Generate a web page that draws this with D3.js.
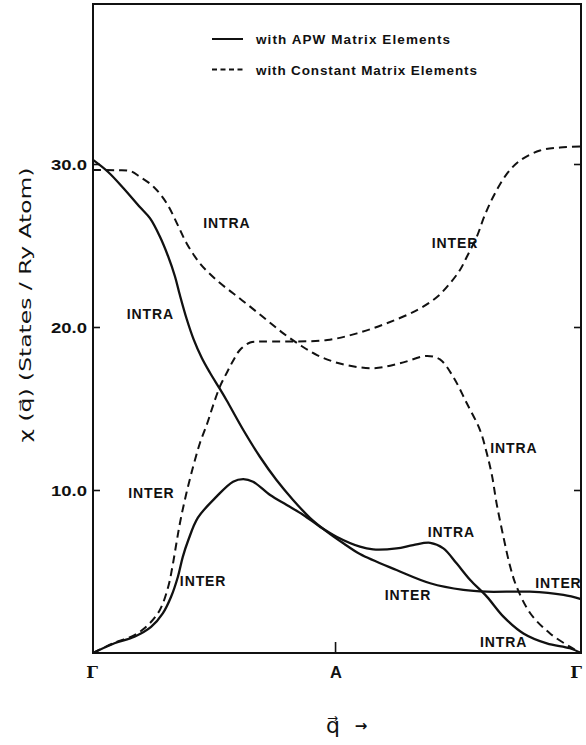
<!DOCTYPE html>
<html><head><meta charset="utf-8">
<script src="https://cdn.jsdelivr.net/npm/d3@7"></script>
<style>body{margin:0;background:#fff}</style>
</head><body>
<svg id="chart" width="586" height="745"></svg>
<script>
// ---- data (x: fraction of path Γ → A → Γ, y: χ(q) in States/Ry Atom) ----
const xTickValues = [0, 0.496, 1];
const xTickLabels = ["Γ", "A", "Γ"];
const yTickValues = [10, 20, 30];
const yTickLabels = ["10.0", "20.0", "30.0"];

const seriesNames = ["with APW Matrix Elements", "with Constant Matrix Elements"];

// APW matrix elements, curve starting at 30 (INTRA → INTER)
const apwIntraX = [0, 0.031, 0.062, 0.096, 0.117, 0.137, 0.154, 0.168, 0.178, 0.192, 0.206, 0.223, 0.240, 0.260, 0.274, 0.308, 0.342, 0.376, 0.410, 0.445, 0.479, 0.513, 0.547, 0.622, 0.691, 0.759, 0.807, 0.895, 0.964, 1.0];
const apwIntraY = [30.25, 29.51, 28.53, 27.36, 26.66, 25.55, 24.33, 23.10, 21.96, 20.49, 19.26, 18.10, 17.18, 16.20, 15.49, 13.68, 12.04, 10.61, 9.39, 8.28, 7.45, 6.73, 6.07, 5.09, 4.28, 3.87, 3.76, 3.76, 3.56, 3.31];

// APW matrix elements, curve starting at 0 (INTER → INTRA)
const apwInterX = [0, 0.044, 0.085, 0.119, 0.143, 0.160, 0.174, 0.184, 0.195, 0.215, 0.253, 0.287, 0.308, 0.328, 0.363, 0.397, 0.431, 0.465, 0.499, 0.547, 0.574, 0.622, 0.656, 0.691, 0.718, 0.745, 0.773, 0.807, 0.841, 0.882, 0.930, 0.977, 1.0];
const apwInterY = [0, 0.6, 1.0, 1.6, 2.43, 3.45, 4.68, 5.9, 6.9, 8.3, 9.59, 10.51, 10.67, 10.51, 9.69, 9.08, 8.47, 7.75, 7.13, 6.52, 6.36, 6.42, 6.62, 6.76, 6.42, 5.5, 4.48, 3.46, 2.23, 1.2, 0.59, 0.29, 0];

// Constant matrix elements, curve starting near 29.6 (INTRA)
const constIntraX = [0, 0.045, 0.076, 0.096, 0.124, 0.151, 0.172, 0.192, 0.219, 0.253, 0.287, 0.322, 0.356, 0.390, 0.424, 0.459, 0.506, 0.574, 0.629, 0.684, 0.711, 0.738, 0.766, 0.793, 0.807, 0.818, 0.827, 0.841, 0.855, 0.868, 0.896, 0.936, 0.977, 1.0];
const constIntraY = [29.63, 29.62, 29.57, 29.22, 28.61, 27.59, 26.36, 25.13, 23.91, 22.88, 22.07, 21.25, 20.43, 19.61, 18.90, 18.28, 17.76, 17.47, 17.77, 18.22, 18.01, 16.95, 15.32, 13.68, 12.25, 10.82, 9.18, 7.13, 5.29, 4.07, 2.44, 1.21, 0.39, 0];

// Constant matrix elements, curve starting at 0 (INTER)
const constInterX = [0, 0.044, 0.085, 0.113, 0.137, 0.154, 0.163, 0.171, 0.179, 0.191, 0.205, 0.219, 0.234, 0.246, 0.260, 0.275, 0.288, 0.301, 0.322, 0.346, 0.398, 0.480, 0.541, 0.602, 0.664, 0.705, 0.732, 0.752, 0.768, 0.787, 0.803, 0.822, 0.848, 0.875, 0.916, 0.957, 1.0];
const constInterY = [0, 0.63, 1.10, 1.72, 2.64, 4.05, 5.34, 6.75, 8.10, 9.75, 11.41, 12.87, 14.08, 15.18, 16.34, 17.24, 17.98, 18.59, 19.05, 19.11, 19.11, 19.20, 19.61, 20.23, 21.04, 21.84, 22.70, 23.50, 24.42, 25.58, 26.87, 28.10, 29.39, 30.21, 30.83, 31.01, 31.07];

// curve annotations (left edge x, baseline y, in data units)
const noteText = ["INTRA", "INTRA", "INTER", "INTER", "INTER", "INTRA", "INTRA", "INTER", "INTER", "INTRA"];
const noteX = [0.226, 0.069, 0.072, 0.178, 0.694, 0.814, 0.686, 0.598, 0.906, 0.793];
const noteY = [26.07, 20.52, 9.51, 4.08, 24.82, 12.24, 7.12, 3.28, 3.96, 0.37];

// ---- drawing ----
const svg = d3.select("#chart");
const mLeft = 93, mRight = 581, mTop = 4, mBottom = 653;
const x = d3.scaleLinear().domain([0, 1]).range([mLeft, mRight]);
const y = d3.scaleLinear().domain([0, (mBottom - mTop) / 16.3]).range([mBottom, mTop]);

const font = "'Liberation Sans', Arial, sans-serif";
const dvFont = "'DejaVu Sans', sans-serif";

// frame
svg.append("rect").attr("x", mLeft).attr("y", mTop)
  .attr("width", mRight - mLeft).attr("height", mBottom - mTop)
  .attr("fill", "none").attr("stroke", "#111").attr("stroke-width", 2);

// y ticks (inward on both sides)
const yLeftAxis = d3.axisRight(y).tickValues(yTickValues).tickSize(7).tickFormat("");
const gyl = svg.append("g").attr("transform", `translate(${mLeft},0)`).call(yLeftAxis);
gyl.select(".domain").remove();
const yRightAxis = d3.axisLeft(y).tickValues(yTickValues).tickSize(7).tickFormat("");
const gyr = svg.append("g").attr("transform", `translate(${mRight},0)`).call(yRightAxis);
gyr.select(".domain").remove();
svg.selectAll(".tick line").attr("stroke", "#111").attr("stroke-width", 1.6);

// y tick labels
svg.append("g").selectAll("text").data(yTickValues).join("text")
  .attr("x", mLeft - 6).attr("y", d => y(d) + 6)
  .attr("text-anchor", "end")
  .attr("font-family", font).attr("font-size", 14.5).attr("font-weight", "bold")
  .attr("textLength", 36).attr("lengthAdjust", "spacingAndGlyphs")
  .attr("fill", "#111")
  .text((d, i) => yTickLabels[i]);

// x ticks (inward, only interior)
const xAx = d3.axisTop(x).tickValues(xTickValues.filter(v => v > 0 && v < 1)).tickSize(11).tickFormat("");
const gx = svg.append("g").attr("transform", `translate(0,${mBottom})`).call(xAx);
gx.select(".domain").remove();
gx.selectAll("line").attr("stroke", "#111").attr("stroke-width", 1.6);

// x tick labels
svg.append("g").selectAll("text").data(xTickValues).join("text")
  .attr("x", (d, i) => i === 0 ? x(d) - 1 : (i === xTickValues.length - 1 ? x(d) - 5 : x(d) + 1))
  .attr("y", 678)
  .attr("text-anchor", "middle")
  .attr("font-family", (d, i) => xTickLabels[i] === "Γ" ? "'DejaVu Serif', 'Liberation Serif', serif" : font)
  .attr("font-size", 16.5)
  .attr("font-weight", "bold")
  .attr("fill", "#111")
  .text((d, i) => xTickLabels[i]);

// axis titles
svg.append("text")
  .attr("transform", "translate(31,305) rotate(-90)")
  .attr("text-anchor", "middle")
  .attr("font-family", dvFont).attr("font-size", 16)
  .attr("textLength", 275).attr("lengthAdjust", "spacingAndGlyphs")
  .attr("fill", "#111")
  .text("χ (q\u20D7) (States / Ry  Atom)");

svg.append("text")
  .attr("x", 333).attr("y", 733)
  .attr("text-anchor", "middle")
  .attr("font-family", dvFont).attr("font-size", 22)
  .attr("fill", "#111")
  .text("q\u20D7");
svg.append("text")
  .attr("x", 361).attr("y", 731)
  .attr("text-anchor", "middle")
  .attr("font-family", dvFont).attr("font-size", 15).attr("font-weight", "bold")
  .attr("fill", "#111")
  .text("→");

// curves
const line = d3.line().x(d => x(d[0])).y(d => y(d[1])).curve(d3.curveCatmullRom.alpha(0.5));
const zip = (a, b) => a.map((v, i) => [v, b[i]]);
const curves = [
  {xs: apwIntraX, ys: apwIntraY, dash: null},
  {xs: apwInterX, ys: apwInterY, dash: null},
  {xs: constIntraX, ys: constIntraY, dash: "8,5"},
  {xs: constInterX, ys: constInterY, dash: "8,5"}
];
svg.append("g").selectAll("path").data(curves).join("path")
  .attr("d", c => line(zip(c.xs, c.ys)))
  .attr("fill", "none").attr("stroke", "#111")
  .attr("stroke-width", c => c.dash ? 2 : 2.3)
  .attr("stroke-dasharray", c => c.dash);

// annotations
svg.append("g").selectAll("text").data(noteText).join("text")
  .attr("x", (d, i) => x(noteX[i])).attr("y", (d, i) => y(noteY[i]))
  .attr("font-family", font).attr("font-size", 14).attr("font-weight", "bold")
  .attr("letter-spacing", 0.9)
  .attr("fill", "#111")
  .text(d => d);

// legend
const legend = svg.append("g");
const legY = [39, 69.5];
const legDash = [null, "5,3.5"];
legend.selectAll("line").data(seriesNames).join("line")
  .attr("x1", 212).attr("x2", 243)
  .attr("y1", (d, i) => legY[i]).attr("y2", (d, i) => legY[i])
  .attr("stroke", "#111").attr("stroke-width", 2)
  .attr("stroke-dasharray", (d, i) => legDash[i]);
const legLen = [194, 221];
legend.selectAll("text").data(seriesNames).join("text")
  .attr("x", 256).attr("y", (d, i) => legY[i] + 5)
  .attr("font-family", font).attr("font-size", 13.5).attr("font-weight", "bold")
  .attr("textLength", (d, i) => legLen[i]).attr("lengthAdjust", "spacing")
  .attr("fill", "#111")
  .text(d => d);
</script>
</body></html>
